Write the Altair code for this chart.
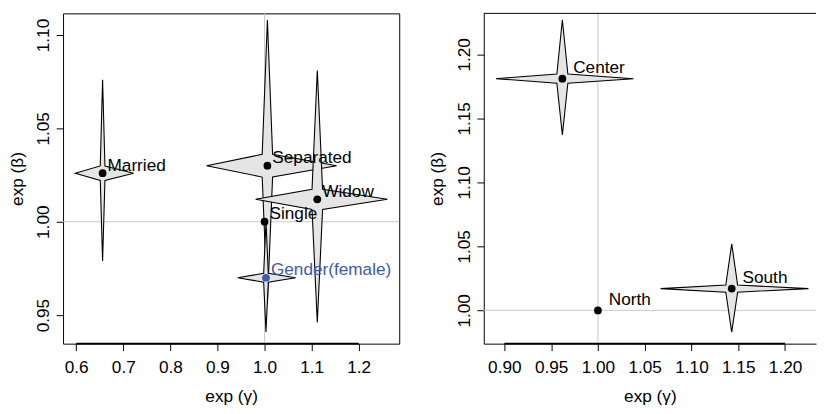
import altair as alt
import pandas as pd

# ---------------- data ----------------
left_labels = ["Married", "Separated", "Widow", "Single", "Gender(female)"]
left_gamma = [0.656, 1.006, 1.112, 1.000, 1.003]
left_gamma_lo = [0.598, 0.877, 0.981, None, 0.943]
left_gamma_hi = [0.722, 1.153, 1.261, None, 1.066]
left_beta = [1.026, 1.030, 1.012, 1.000, 0.970]
left_beta_lo = [0.979, 0.956, 0.946, None, 0.941]
left_beta_hi = [1.076, 1.108, 1.081, None, 1.000]

right_labels = ["Center", "North", "South"]
right_gamma = [0.962, 1.000, 1.143]
right_gamma_lo = [0.891, None, 1.067]
right_gamma_hi = [1.038, None, 1.225]
right_beta = [1.181, 1.000, 1.017]
right_beta_lo = [1.137, None, 0.983]
right_beta_hi = [1.227, None, 1.052]

left_xticks = [0.6, 0.7, 0.8, 0.9, 1.0, 1.1, 1.2]
left_yticks = [0.95, 1.00, 1.05, 1.10]
right_xticks = [0.90, 0.95, 1.00, 1.05, 1.10, 1.15, 1.20]
right_yticks = [1.00, 1.05, 1.10, 1.15, 1.20]

x_title = "exp (γ)"
y_title = "exp (β)"
highlight = "Gender(female)"

FONT = "Liberation Sans"
FS = 17.5
STAR_FILL = "#E5E5E5"
REF_GRAY = "#C8C8C8"
BLUE = "#3F5AA8"


def star_table(labels, g, glo, ghi, b, blo, bhi, f=0.04):
    rows = []
    for i, lab in enumerate(labels):
        if glo[i] is None:
            continue
        dx = f * (ghi[i] - glo[i])
        dy = f * (bhi[i] - blo[i])
        pts = [
            (glo[i], b[i], b[i]),
            (g[i] - dx, b[i] - dy, b[i] + dy),
            (g[i], blo[i], bhi[i]),
            (g[i] + dx, b[i] - dy, b[i] + dy),
            (ghi[i], b[i], b[i]),
        ]
        for xv, lo, hi in pts:
            rows.append({"label": lab, "gx": xv, "lo": lo, "hi": hi})
    return pd.DataFrame(rows)


def panel(labels, g, glo, ghi, b, blo, bhi, xdom, ydom, xticks, yticks,
          xfmt, width, height, tdx, tdy, title_pad, boxed):
    pts = pd.DataFrame({"label": labels, "g": g, "b": b})
    stars = star_table(labels, g, glo, ghi, b, blo, bhi)
    xs = alt.Scale(domain=xdom, nice=False, zero=False)
    ys = alt.Scale(domain=ydom, nice=False, zero=False)
    xaxis = alt.Axis(values=xticks, format=xfmt, title=x_title,
                     domain=not boxed, labelPadding=8, titlePadding=12)
    yaxis = alt.Axis(values=yticks, format=".2f", title=y_title,
                     domain=not boxed, labelAngle=270, labelAlign="center",
                     labelBaseline="alphabetic", labelPadding=8,
                     titlePadding=title_pad)

    def X(f):
        return alt.X(f, type="quantitative", scale=xs, axis=xaxis)

    def Y(f):
        return alt.Y(f, type="quantitative", scale=ys, axis=yaxis)

    one = pd.DataFrame({"v": [1.0]})
    vline = alt.Chart(one).mark_rule(color=REF_GRAY, strokeWidth=1).encode(x=X("v"))
    hline = alt.Chart(one).mark_rule(color=REF_GRAY, strokeWidth=1).encode(y=Y("v"))

    star = alt.Chart(stars).mark_area(
        fill=STAR_FILL, stroke="black", strokeWidth=1.1, interpolate="linear"
    ).encode(x=X("gx"), y=Y("lo"), y2="hi", detail="label:N")

    dots = alt.Chart(pts).mark_circle(size=62, opacity=1).encode(
        x=X("g"), y=Y("b"),
        color=alt.condition(alt.datum.label == highlight, alt.value(BLUE), alt.value("black")),
    )
    text = alt.Chart(pts).mark_text(
        align="left", baseline="alphabetic", dx=tdx, dy=tdy, font=FONT, fontSize=FS
    ).encode(
        x=X("g"), y=Y("b"), text="label:N",
        color=alt.condition(alt.datum.label == highlight, alt.value(BLUE), alt.value("black")),
    )

    tick_span = pd.DataFrame({"a": [min(xticks)], "z": [max(xticks)]})
    axis_line = alt.Chart(tick_span).mark_rule(color="black", strokeWidth=1.6).encode(
        x=X("a"), x2="z", y=alt.value(height)
    )

    layers = [vline, hline, star, dots, text, axis_line]
    if not boxed:
        top = alt.Chart(one).mark_rule(color="black", strokeWidth=1).encode(
            x=alt.value(0), x2=alt.value(width), y=alt.value(0)
        )
        layers.append(top)
    ch = alt.layer(*layers).properties(
        width=width, height=height,
        view=alt.ViewBackground(stroke="black" if boxed else "transparent", strokeWidth=1),
    )
    return ch


left = panel(left_labels, left_gamma, left_gamma_lo, left_gamma_hi,
             left_beta, left_beta_lo, left_beta_hi,
             [0.572, 1.286], [0.9347, 1.1116], left_xticks, left_yticks, ".1f",
             342, 336, 5, -2.5, 8, True)
right = panel(right_labels, right_gamma, right_gamma_lo, right_gamma_hi,
              right_beta, right_beta_lo, right_beta_hi,
              [0.878, 1.2331], [0.974, 1.232], right_xticks, right_yticks, ".2f",
              338, 336, 11, -5.5, 9, False)

chart = alt.hconcat(left, right, spacing=28).properties(
    padding={"left": 0, "top": 1, "right": 0, "bottom": 0}
).configure_axis(
    labelFont=FONT, labelFontSize=FS, labelColor="black",
    titleFont=FONT, titleFontSize=FS, titleFontWeight="normal", titleColor="black",
    tickColor="black", tickSize=7, tickWidth=1, grid=False,
    domainColor="black", domainWidth=1,
).configure_view(stroke="black")

chart.save("out.html", embed_options={"renderer": "svg", "actions": False})
